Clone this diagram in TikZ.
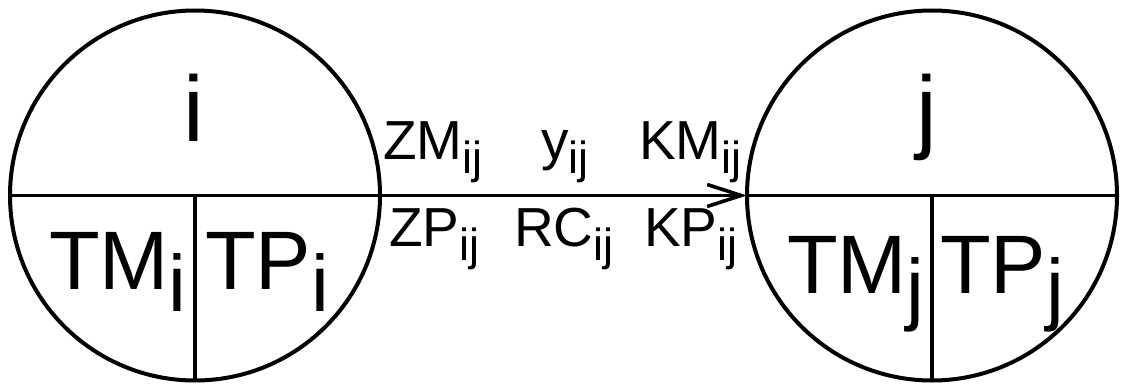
\documentclass[tikz,border=0pt]{standalone}
\usepackage{fontspec}
\setmainfont{Liberation Sans}
\usetikzlibrary{arrows.meta}
\newcommand\lbl[5]{{\fontsize{#3}{#3}\selectfont #1}\raisebox{-#5pt}{\fontsize{#4}{#4}\selectfont #2}}
\tikzset{
  ring/.style={circle, draw, line width=4pt, minimum size=370pt, inner sep=0pt, outer sep=0pt},
  div/.style={line width=3.6pt},
  txt/.style={inner sep=0pt, outer sep=0pt, anchor=base west},
  big/.style={inner sep=0pt, outer sep=0pt, anchor=base, font=\fontsize{93}{93}\selectfont},
  link/.style={line width=3.6pt, -{Straight Barb[length=34pt,width=22pt,line width=3.6pt]}}
}
\begin{document}
\begin{tikzpicture}[x=1pt,y=-1pt]
\useasboundingbox (0,0) rectangle (1121,385);
% left circle
\node[ring] (I) at (195,195.5) {};
\draw[div] (I.west) -- (I.east);
\draw[div] (I.center) -- (I.south);
% right circle
\node[ring] (J) at (932,195.5) {};
\draw[div] (J.west) -- (J.east);
\draw[div] (J.center) -- (J.south);
% arrow
\draw[link] (I.east) -- (J.west);
% big labels
\node[big] (li) at (194,142) {i};
\node[big] (lj) at (927,142) {j};
% cell labels
\node[txt] (tmi) at (49,289) {\lbl{TM}{i}{83}{80}{22}};
\node[txt] (tpi) at (205,289) {\lbl{TP}{i}{83}{80}{22}};
\node[txt] (tmj) at (787,293) {\lbl{TM}{j}{83}{80}{22}};
\node[txt] (tpj) at (940,293) {\lbl{TP}{j}{83}{80}{22}};
% edge labels
\node[txt] (zm) at (383,159) {\lbl{ZM}{ij}{55}{45}{14}};
\node[txt] (y) at (541,159) {\lbl{y}{ij}{55}{45}{14}};
\node[txt] (km) at (639,159) {\lbl{KM}{ij}{55}{45}{14}};
\node[txt] (zp) at (389,246) {\lbl{ZP}{ij}{55}{45}{14}};
\node[txt] (rc) at (514,246) {\lbl{RC}{ij}{55}{45}{14}};
\node[txt] (kp) at (644,246) {\lbl{KP}{ij}{55}{45}{14}};
\end{tikzpicture}
\end{document}
